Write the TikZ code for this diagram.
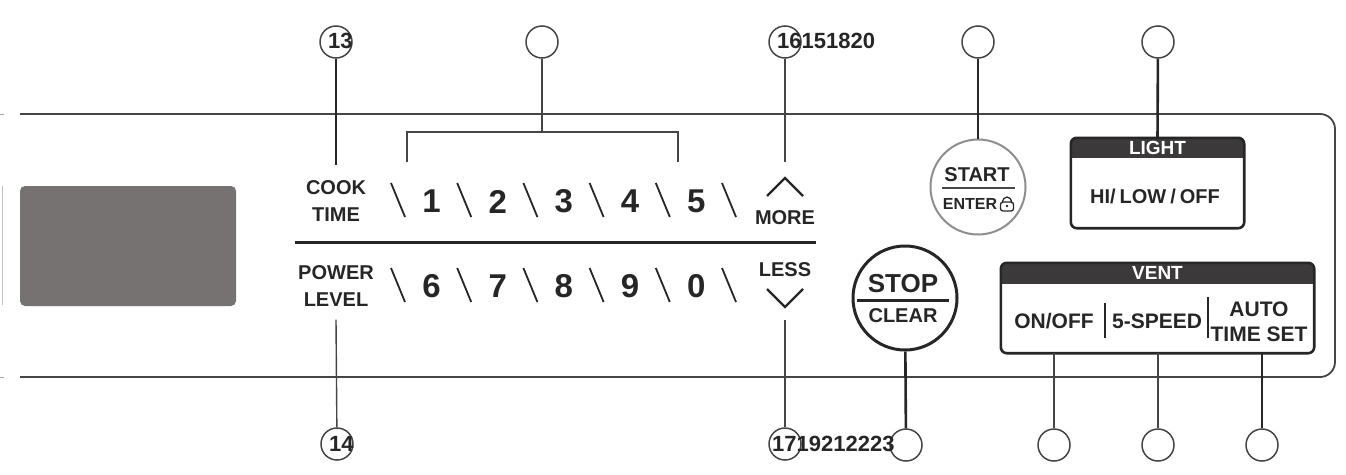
\documentclass[tikz,border=0pt]{standalone}
\usepackage{fontspec}
\setmainfont{Liberation Sans}
\usetikzlibrary{calc}
\definecolor{Ink}{HTML}{262626}
\definecolor{Frame}{HTML}{454545}
\definecolor{Band}{HTML}{3B3939}
\definecolor{Screen}{HTML}{767272}
\definecolor{Rim}{HTML}{8E8E8E}

\tikzset{
  callout/.style={circle,draw=Frame,line width=1.5pt,minimum size=32pt,inner sep=0pt},
  callnum/.style={font=\bfseries\fontsize{22}{22}\selectfont,text=Ink,inner sep=0pt},
  lead/.style={Frame,line width=1.4pt},
  leadbold/.style={Ink,line width=2.6pt},
  keytext/.style={font=\bfseries\fontsize{20}{27}\selectfont,text=Ink,align=center,inner sep=0pt},
  venttext/.style={font=\bfseries\fontsize{21}{25}\selectfont,text=Ink,align=center,inner sep=0pt},
  digit/.style={font=\bfseries\fontsize{33}{33}\selectfont,text=Ink,inner sep=0pt},
  slash/.style={Ink,line width=1.8pt},
  chevron/.style={Ink,line width=2.2pt},
  boxline/.style={draw=Ink,line width=2.6pt,rounded corners=6pt},
  bandtext/.style={font=\bfseries\fontsize{19}{19}\selectfont,text=white,inner sep=0pt},
}

\begin{document}
\begin{tikzpicture}[x=1pt,y=-1pt]
\useasboundingbox (0,0) rectangle (1346,474);

% panel, open on the left
\draw[Frame,line width=1.8pt,rounded corners=15pt] (20,114) -- (1335,114) -- (1335,377) -- (20,377);
\draw[black!25,line width=1pt] (2,186) -- (2,305);
\draw[black!35,line width=1pt] (0,114) -- (4,114);
\draw[black!35,line width=1pt] (0,377) -- (4,377);
\fill[Screen,rounded corners=5pt] (20,186) rectangle (236,306);

% number pad
\node[keytext] (cook) at (336,201) {COOK\\TIME};
\node[keytext] (power) at (336,286) {POWER\\LEVEL};
\foreach \d [count=\i from 0] in {1,2,3,4,5}
  \node[digit] (k\d) at ({431.5+66.2*\i},201.5) {\d};
\foreach \d [count=\i from 0] in {6,7,8,9,0}
  \node[digit] (k\d) at ({431.5+66.2*\i},286) {\d};
\foreach \i in {0,...,5} {
  \draw[slash] ({391+66.2*\i},183) -- ++(14,34);
  \draw[slash] ({391+66.2*\i},268) -- ++(14,34);
}
\draw[Ink,line width=3pt] (295,242) -- (816,242);

% more / less
\node[keytext] (more) at (785,217.5) {MORE};
\node[keytext] (less) at (785,269.5) {LESS};
\coordinate (moretip) at (785,178);
\coordinate (lesstip) at (785,307);
\draw[chevron] ([xshift=-18pt,yshift=-18pt]moretip) -- (moretip) -- ([xshift=18pt,yshift=-18pt]moretip);
\draw[chevron] ([xshift=-18pt,yshift=18pt]lesstip) -- (lesstip) -- ([xshift=18pt,yshift=18pt]lesstip);

% start / enter
\node[circle,draw=Rim,line width=2pt,minimum size=95pt,inner sep=0pt] (start) at (978,187) {};
\node[keytext] (starttxt) at (977,175) {START};
\draw[Ink!85,line width=2pt] (942,188) -- (1015,188);
\node[font=\bfseries\fontsize{16}{16}\selectfont,text=Ink,inner sep=0pt] (entertxt) at (970,203.5) {ENTER};
\draw[Ink,line width=1.3pt] (1002.5,203) .. controls (1002.5,195) and (1011.5,195) .. (1011.5,203);
\draw[Ink,line width=1.3pt,rounded corners=2.5pt] (1000.5,202) rectangle (1013.5,211);
\fill[Ink] (1007,206) circle (1.4);

% stop / clear
\node[circle,draw=Ink,line width=3pt,minimum size=104pt,inner sep=0pt] (stop) at (905,298) {};
\node[font=\bfseries\fontsize{26}{26}\selectfont,text=Ink,inner sep=0pt] (stoptxt) at (903,284) {STOP};
\draw[Ink,line width=3pt] (857,300) -- (949,300);
\node[keytext] (cleartxt) at (903,316) {CLEAR};

% light box
\path (1157.5,183) node[minimum width=173pt,minimum height=90pt,inner sep=0pt] (light) {};
\begin{scope}
  \clip[rounded corners=6pt] (light.north west) rectangle (light.south east);
  \fill[Band] (light.north west) rectangle ([yshift=-20pt]light.north east);
\end{scope}
\draw[boxline] (light.north west) rectangle (light.south east);
\node[bandtext] (lighthead) at ([yshift=-10pt]light.north) {LIGHT};
\node[keytext] (hilow) at (1155,196) {HI/\hspace{4pt}LOW\hspace{4pt}/\hspace{4pt}OFF};

% vent box
\path (1157.5,308) node[minimum width=313pt,minimum height=90pt,inner sep=0pt] (vent) {};
\begin{scope}
  \clip[rounded corners=6pt] (vent.north west) rectangle (vent.south east);
  \fill[Band] (vent.north west) rectangle ([yshift=-21pt]vent.north east);
\end{scope}
\draw[boxline] (vent.north west) rectangle (vent.south east);
\node[bandtext] (venthead) at ([yshift=-10.5pt]vent.north) {VENT};
\node[venttext] (onoff) at (1054,321) {ON/OFF};
\node[venttext] (speed) at (1157,321) {5-SPEED};
\node[venttext] (auto) at (1259,322) {AUTO\\TIME SET};
\draw[Ink,line width=2.5pt] (1105,303) -- (1105,338);
\draw[Ink,line width=2.5pt] (1208,297) -- (1208,338);

% callouts
\node[callout] (c13) at (336,42) {};
\node[callout] (cdigits) at (542,42) {};
\node[callout] (c16) at (785,42) {};
\node[callout] (cstart) at (978,42) {};
\node[callout] (clight) at (1158,42) {};
\node[callout] (c14) at (337,444) {};
\node[callout] (c17) at (785,444) {};
\node[callout] (cstop) at (906,445) {};
\node[callout] (con) at (1054,445) {};
\node[callout] (cspeed) at (1158,445) {};
\node[callout] (cauto) at (1262,445) {};
\node[callnum,anchor=west] (n13) at (328,41) {13};
\node[callnum,anchor=west] (n16) at (777,41) {16151820};
\node[callnum,anchor=west] (n14) at (329,444) {14};
\node[callnum,anchor=west] (n17) at (772,444) {1719212223};

% leads
\coordinate (brkL) at (407,162);
\coordinate (brkR) at (678,162);
\coordinate (brkT) at (542,132);
\draw[leadbold] (c13) -- ([yshift=15pt]cook.north);
\draw[lead] (brkL) -- (brkL |- brkT) -- (brkR |- brkT) -- (brkR);
\draw[lead] (cdigits) -- (brkT);
\draw[lead] (c16) -- ([yshift=16pt]moretip);
\draw[leadbold] (cstart) -- (start);
\draw[leadbold] (clight) -- (light.north);
\draw[lead] ([yshift=-13pt]power.south) -- (c14);
\draw[lead] ([yshift=-13pt]lesstip) -- (c17);
\draw[leadbold] (stop) -- (cstop);
\draw[lead] (con |- vent.south) -- (con);
\draw[lead] (cspeed |- vent.south) -- (cspeed);
\draw[leadbold] (cauto |- vent.south) -- (cauto);
\end{tikzpicture}
\end{document}
